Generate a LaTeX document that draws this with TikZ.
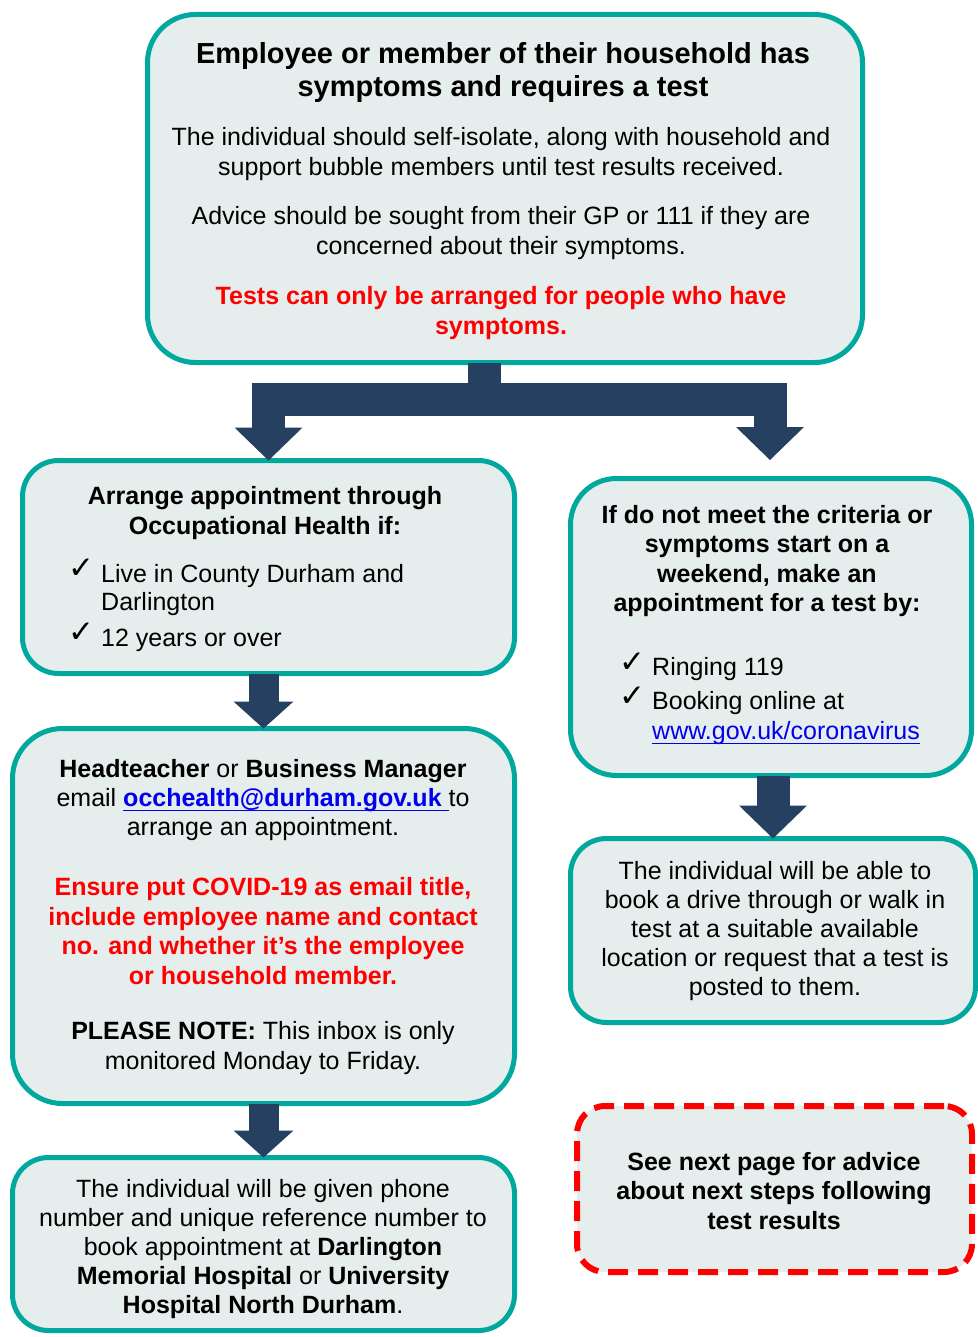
\documentclass[tikz,border=0pt]{standalone}
\usepackage{fontspec}
\setmainfont{Liberation Sans}
\newfontfamily\symfont{DejaVu Sans}
\usetikzlibrary{arrows.meta}
\definecolor{tealc}{RGB}{0,168,157}
\definecolor{boxfill}{RGB}{230,238,237}
\definecolor{navy}{RGB}{38,64,97}
\definecolor{redc}{RGB}{255,0,0}
\definecolor{linkblue}{RGB}{0,0,238}
\newcommand\lnk[1]{\setbox0\hbox{#1}\rlap{\rule[-5pt]{\wd0}{1.8pt}}\box0}
\begin{document}
\begin{tikzpicture}[x=1pt,y=-1pt,
  box/.style={draw=tealc, line width=5pt, fill=boxfill, inner sep=0pt, outer sep=0pt},
  dashbox/.style={draw=redc, line width=6pt, fill=boxfill, dash pattern=on 20pt off 10pt, rounded corners=28pt, inner sep=0pt, outer sep=0pt},
  txt/.style={font=\fontsize{25}{29.2}\selectfont, align=center, inner sep=0pt, text=black},
  btxt/.style={font=\fontsize{25}{29.5}\selectfont\bfseries, align=center, inner sep=0pt, text=black},
  itm/.style={font=\fontsize{25}{28.5}\selectfont, align=left, inner sep=0pt, anchor=west, text=black},
  tick/.style={font=\symfont\fontsize{31}{31}\selectfont, inner sep=0pt, text=black},
  sarrow/.style={draw=navy, line width=30pt, -{Triangle[width=60pt,length=27pt,line width=0pt]}},
  larrow/.style={draw=navy, line width=33pt, line join=miter, -{Triangle[width=68pt,length=33pt,line width=0pt]}}
]
\useasboundingbox (0,0) rectangle (977,1337);

% boxes
\node[box, rounded corners=48pt, minimum width=715pt, minimum height=348pt] (top) at (505,188.5) {};
\node[box, rounded corners=36pt, minimum width=492pt, minimum height=213pt] (lb1) at (268.5,567) {};
\node[box, rounded corners=50pt, minimum width=502pt, minimum height=375pt] (lb2) at (263.5,916) {};
\node[box, rounded corners=36pt, minimum width=502pt, minimum height=173pt] (lb3) at (263.5,1244) {};
\node[box, rounded corners=46pt, minimum width=401pt, minimum height=297pt] (rb1) at (771,627) {};
\node[box, rounded corners=36pt, minimum width=405pt, minimum height=184pt] (rb2) at (773,930.5) {};
\node[dashbox, minimum width=395pt, minimum height=166pt] (note) at (774.5,1189) {};

% connectors
\coordinate (split) at (484,399);
\coordinate (rtip) at (770,460);
\draw[larrow] (split |- top.south) -- (split) -| (lb1.north);
\draw[larrow] (split |- top.south) -- (split) -| (rtip);
\draw[sarrow] (lb2.north |- lb1.south) -- (lb2.north);
\draw[sarrow] (lb3.north |- lb2.south) -- (lb3.north);
\draw[larrow] (rb2.north |- rb1.south) -- (rb2.north);

% top box text
\node[font=\fontsize{29}{33}\selectfont\bfseries, align=center, inner sep=0pt] (ttitle) at (503,73)
  {Employee or member of their household has\\symptoms and requires a test};
\node[txt] (tp1) at (501,154) {The individual should self-isolate, along with household and\\support bubble members until test results received.};
\node[txt] (tp2) at (501,233) {Advice should be sought from their GP or 111 if they are\\concerned about their symptoms.};
\node[btxt, text=redc] (tp3) at (501,313) {Tests can only be arranged for people who have\\symptoms.};

% left box 1
\node[btxt] (l1h) at (265,513) {Arrange appointment through\\Occupational Health if:};
\node[tick] (l1c1) at (81,569) {✓};
\node[itm] (l1i1) at (101,590) {Live in County Durham and\\Darlington};
\node[tick] (l1c2) at (81,633) {✓};
\node[itm] (l1i2) at (101,640) {12 years or over};

% left box 2
\node[txt] (l2a) at (263,800) {\textbf{Headteacher} or \textbf{Business Manager}\\email \textcolor{linkblue}{\lnk{\textbf{occhealth@durham.gov.uk }}}to\\arrange an appointment.};
\node[btxt, text=redc] (l2b) at (263,931) {Ensure put COVID-19 as email title,\\include employee name and contact\\no. and whether it’s the employee\\or household member.};
\node[txt] (l2c) at (263,1048) {\textbf{PLEASE NOTE:} This inbox is only\\monitored Monday to Friday.};

% left box 3
\node[txt] (l3) at (263,1249) {The individual will be given phone\\number and unique reference number to\\book appointment at \textbf{Darlington}\\\textbf{Memorial Hospital} or \textbf{University}\\\textbf{Hospital North Durham}.};

% right box 1
\node[btxt] (r1h) at (767,561) {If do not meet the criteria or\\symptoms start on a\\weekend, make an\\appointment for a test by:};
\node[tick] (r1c1) at (632,663) {✓};
\node[itm] (r1i1) at (652,669) {Ringing 119};
\node[tick] (r1c2) at (632,697) {✓};
\node[itm] (r1i2) at (652,703) {Booking online at};
\node[itm, text=linkblue] (r1i3) at (652,733) {\lnk{www.gov.uk/coronavirus}};

% right box 2
\node[txt] (r2) at (775,931) {The individual will be able to\\book a drive through or walk in\\test at a suitable available\\location or request that a test is\\posted to them.};

% note box
\node[btxt] (nt) at (774,1191) {See next page for advice\\about next steps following\\test results};
\end{tikzpicture}
\end{document}
